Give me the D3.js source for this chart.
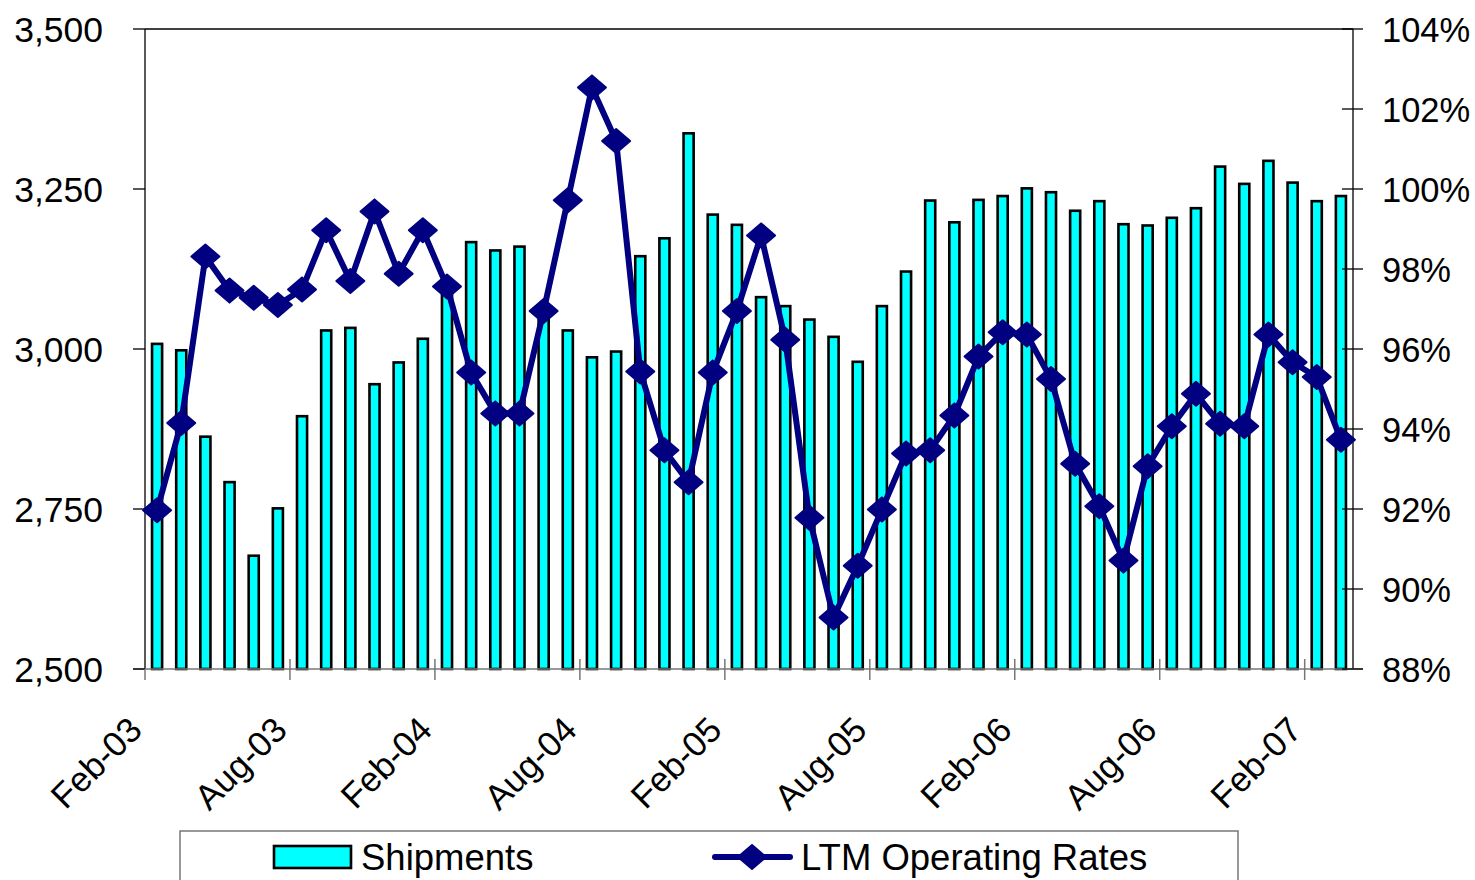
<!DOCTYPE html>
<html>
<head>
<meta charset="utf-8">
<script src="https://d3js.org/d3.v7.min.js"></script>
<style>
  body { margin: 0; background: #fff; }
  svg { display: block; font-family: "Liberation Sans", Arial, sans-serif; }
</style>
</head>
<body>
<script>
// monthly data, Feb-03 .. Mar-07
const months = d3.timeMonth.range(new Date(2003, 1, 1), new Date(2007, 3, 1));
const shipments = [3008, 2998, 2863, 2792, 2677, 2751, 2895, 3029, 3033, 2945,
                   2979, 3016, 3093, 3167, 3154, 3160, 3060, 3029, 2987, 2996,
                   3145, 3173, 3337, 3210, 3194, 3081, 3067, 3046, 3019, 2980,
                   3067, 3121, 3232, 3198, 3233, 3239, 3251, 3245, 3216, 3231,
                   3195, 3193, 3205, 3220, 3285, 3258, 3294, 3260, 3231, 3239];
const ratesPct = [91.97, 94.15, 98.31, 97.46, 97.28, 97.10, 97.49, 98.97, 97.70, 99.44,
                  97.88, 98.97, 97.56, 95.41, 94.39, 94.39, 96.95, 99.72, 102.54, 101.20,
                  95.44, 93.47, 92.67, 95.41, 96.95, 98.84, 96.23, 91.78, 89.29, 90.58,
                  91.99, 93.39, 93.47, 94.34, 95.81, 96.42, 96.36, 95.25, 93.13, 92.07,
                  90.71, 93.07, 94.07, 94.88, 94.13, 94.07, 96.36, 95.67, 95.30, 93.73];
const leftTicks = [2500, 2750, 3000, 3250, 3500];
const rightTicks = [88, 90, 92, 94, 96, 98, 100, 102, 104];
const xTickLabels = ["Feb-03", "Aug-03", "Feb-04", "Aug-04", "Feb-05", "Aug-05", "Feb-06", "Aug-06", "Feb-07"];
const legendNames = ["Shipments", "LTM Operating Rates"];

const W = 1475, H = 880;
const plot = { left: 145, right: 1353, top: 29, bottom: 669 };
const fmtMonth = d3.timeFormat("%b-%y");

const svg = d3.select("body").append("svg").attr("width", W).attr("height", H);

const x = d3.scaleBand()
    .domain(months.map(fmtMonth))
    .range([plot.left, plot.right])
    .paddingInner(0.5).paddingOuter(0.25);
const step = x.step();
const yL = d3.scaleLinear().domain([2500, 3500]).range([plot.bottom, plot.top]);
const yR = d3.scaleLinear().domain([88, 104]).range([plot.bottom, plot.top]);

// bars
svg.append("g").selectAll("rect")
    .data(shipments)
    .enter().append("rect")
    .attr("x", (d, i) => x(fmtMonth(months[i])) + 1)
    .attr("width", x.bandwidth() - 2)
    .attr("y", d => yL(d))
    .attr("height", d => yL(2500) - yL(d))
    .style("fill", "#00ffff")
    .style("stroke", "#000")
    .style("stroke-width", 2.6);

// frame lines
svg.append("line").attr("x1", plot.left).attr("x2", plot.right)
    .attr("y1", plot.top).attr("y2", plot.top).style("stroke", "#000").style("stroke-width", 1.3);
svg.append("line").attr("x1", plot.left).attr("x2", plot.left)
    .attr("y1", plot.top).attr("y2", plot.bottom).style("stroke", "#000").style("stroke-width", 1.3);
svg.append("line").attr("x1", plot.right).attr("x2", plot.right)
    .attr("y1", plot.top).attr("y2", plot.bottom).style("stroke", "#000").style("stroke-width", 1.3);
svg.append("line").attr("x1", plot.left - 12).attr("x2", plot.right + 10)
    .attr("y1", plot.bottom).attr("y2", plot.bottom).style("stroke", "#777").style("stroke-width", 1.5);

// left axis
const gL = svg.append("g");
gL.selectAll("line").data(leftTicks).enter().append("line")
    .attr("x1", plot.left - 12).attr("x2", plot.left)
    .attr("y1", d => yL(d)).attr("y2", d => yL(d))
    .style("stroke", "#000").style("stroke-width", 1.3);
gL.selectAll("text").data(leftTicks).enter().append("text")
    .attr("x", 103).attr("y", d => yL(d)).attr("dy", "0.37em")
    .attr("text-anchor", "end").style("font-size", "35.5px")
    .text(d => d3.format(",")(d));

// right axis
const gR = svg.append("g");
gR.selectAll("line").data(rightTicks).enter().append("line")
    .attr("x1", plot.right - 11).attr("x2", plot.right + 10)
    .attr("y1", d => yR(d)).attr("y2", d => yR(d))
    .style("stroke", "#000").style("stroke-width", 1.3);
gR.selectAll("text").data(rightTicks).enter().append("text")
    .attr("x", 1382).attr("y", d => yR(d)).attr("dy", "0.37em")
    .attr("text-anchor", "start").style("font-size", "34.5px")
    .text(d => d + "%");

// bottom axis ticks every 6 months
const gB = svg.append("g");
gB.selectAll("line").data(xTickLabels).enter().append("line")
    .attr("x1", (d, i) => plot.left + i * 6 * step).attr("x2", (d, i) => plot.left + i * 6 * step)
    .attr("y1", (d, i) => i === 0 ? plot.bottom : plot.bottom - 10).attr("y2", plot.bottom + 11)
    .style("stroke", "#777").style("stroke-width", 1.5);
gB.selectAll("text").data(xTickLabels).enter().append("text")
    .attr("transform", (d, i) => `translate(${plot.left + i * 6 * step - 1},${plot.bottom + 63}) rotate(-45)`)
    .attr("text-anchor", "end").style("font-size", "35px")
    .text(d => d);

// line series
const lineGen = d3.line()
    .x((d, i) => x(fmtMonth(months[i])) + x.bandwidth() / 2)
    .y(d => yR(d));
svg.append("path").datum(ratesPct)
    .attr("d", lineGen)
    .style("fill", "none").style("stroke", "#000080")
    .style("stroke-width", 6).style("stroke-linejoin", "round");

const diamond = "M0,-12L14,0L0,12L-14,0Z";
svg.append("g").selectAll("path")
    .data(ratesPct)
    .enter().append("path")
    .attr("d", diamond)
    .attr("transform", (d, i) => `translate(${x(fmtMonth(months[i])) + x.bandwidth() / 2},${yR(d)})`)
    .style("fill", "#000080").style("stroke", "#000080")
    .style("stroke-width", 2).style("stroke-linejoin", "round");

// legend
const lg = svg.append("g");
lg.append("rect").attr("x", 180).attr("y", 831).attr("width", 1058).attr("height", 80)
    .style("fill", "#fff").style("stroke", "#777").style("stroke-width", 1.5);
lg.append("rect").attr("x", 274).attr("y", 846).attr("width", 77).attr("height", 22)
    .style("fill", "#00ffff").style("stroke", "#000").style("stroke-width", 2.6);
lg.append("text").attr("x", 361).attr("y", 870).style("font-size", "36.5px").text(legendNames[0]);
lg.append("line").attr("x1", 715).attr("x2", 790).attr("y1", 857).attr("y2", 857)
    .style("stroke", "#000080").style("stroke-width", 6).style("stroke-linecap", "round");
lg.append("path").attr("d", diamond).attr("transform", "translate(752,857)")
    .style("fill", "#000080").style("stroke", "#000080").style("stroke-width", 2);
lg.append("text").attr("x", 801).attr("y", 870).style("font-size", "36.5px").text(legendNames[1]);
</script>
</body>
</html>
